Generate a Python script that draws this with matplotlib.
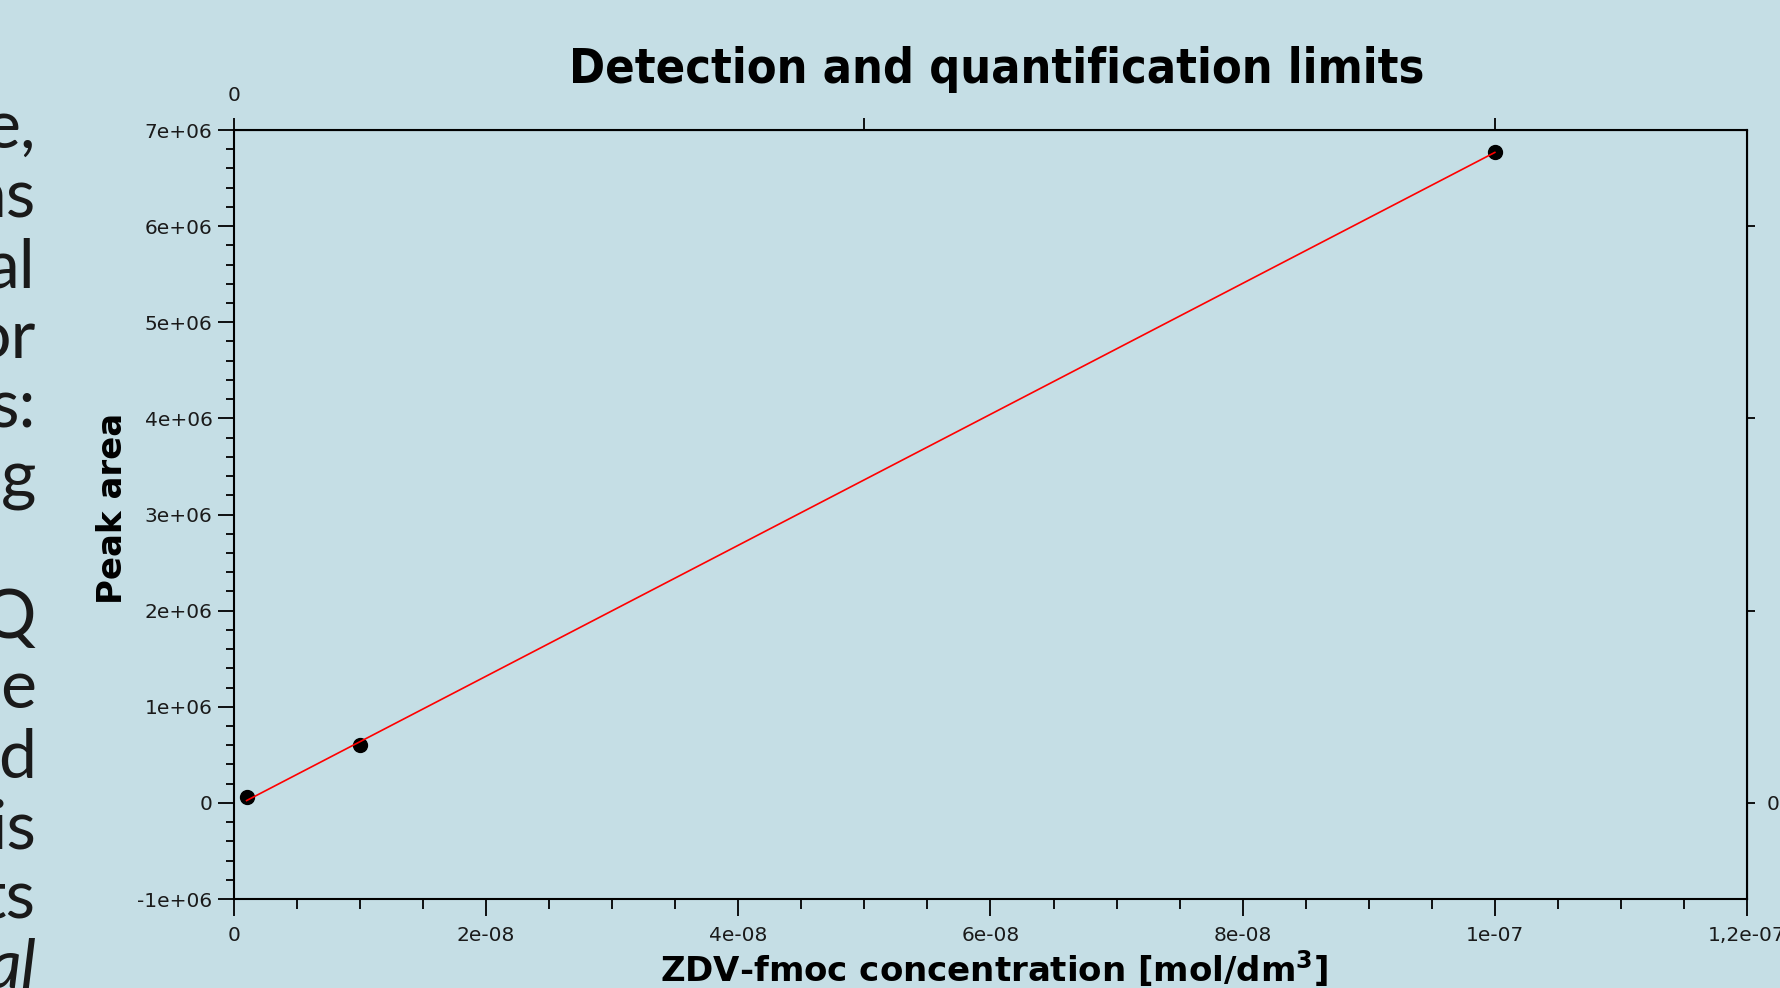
import numpy as np
import matplotlib
matplotlib.use("Agg")
import matplotlib.pyplot as plt
from matplotlib.ticker import MultipleLocator

# calibration points: concentration [mol/dm3] vs peak area
conc = [1e-9, 1e-8, 1e-7]
area = [5.8e4, 6.0e5, 6.77e6]

x_ticks = [0, 2e-8, 4e-8, 6e-8, 8e-8, 1e-7, 1.2e-7]
x_tick_labels = ["0", "2e-08", "4e-08", "6e-08", "8e-08", "1e-07", "1,2e-07"]
y_ticks = [-1e6, 0, 1e6, 2e6, 3e6, 4e6, 5e6, 6e6, 7e6]
y_tick_labels = ["-1e+06", "0", "1e+06", "2e+06", "3e+06", "4e+06",
                 "5e+06", "6e+06", "7e+06"]
top_ticks = [0, 5e-8, 1e-7]
top_tick_labels = ["0", "", ""]
right_ticks = [0, 2e6, 4e6, 6e6]
right_tick_labels = ["0", "", "", ""]

# tail ends of the slide paragraph on the left edge
side_text = ["e,", "as", "al", "or", "s:", "g", "", "Q", "e", "d", "is", "ts", "al"]

title = "Detection and quantification limits"
xlabel = r"ZDV-fmoc concentration [mol/dm$^\mathbf{3}$]"
ylabel = "Peak area"

BG = "#c5dee5"
INK = "#1a1a1a"
W, H = 1781, 988


def px(x):
    return x / W


def py(y):
    return 1 - y / H


fig = plt.figure(figsize=(W / 100, H / 100), dpi=100, facecolor=BG)
ax = fig.add_axes([px(234), py(899), px(1747 - 234), (899 - 130) / H])
ax.set_facecolor(BG)

# least squares line through the calibration points
slope, icpt = np.polyfit(conc, area, 1)
xs = np.array([min(conc), max(conc)])
ax.plot(conc, area, "o", color="black", ms=10, zorder=3)
ax.plot(xs, slope * xs + icpt, color="red", lw=1.2, zorder=4)

ax.set_xlim(0, 1.2e-7)
ax.set_ylim(-1e6, 7e6)
ax.set_xticks(x_ticks, x_tick_labels)
ax.set_yticks(y_ticks, y_tick_labels)
ax.xaxis.set_minor_locator(MultipleLocator(5e-9))
ax.yaxis.set_minor_locator(MultipleLocator(2e5))

for s in ax.spines.values():
    s.set_linewidth(1.5)
    s.set_color("black")

ax.tick_params(axis="x", which="major", direction="out", length=12.5, width=1.3,
               labelsize=14.5, labelcolor=INK, pad=7)
ax.tick_params(axis="x", which="minor", direction="out", length=7, width=1.3)
ax.tick_params(axis="y", which="major", direction="out", length=11.5, width=1.3,
               labelsize=14.5, labelcolor=INK, pad=4)
ax.tick_params(axis="y", which="minor", direction="out", length=6, width=1.3)

top = ax.secondary_xaxis("top")
top.set_xticks(top_ticks, top_tick_labels)
top.tick_params(direction="out", length=9, width=1.3, labelsize=14.5,
                labelcolor=INK, pad=9)
right = ax.secondary_yaxis("right")
right.set_yticks(right_ticks, right_tick_labels)
right.tick_params(direction="out", length=6, width=1.3, labelsize=14.5,
                  labelcolor=INK, pad=8)

fig.text(px(997), py(83), title, ha="center", va="baseline", fontsize=34.8,
         fontweight="bold", fontstretch="condensed", color="black")
fig.text(px(113), py(508), ylabel, ha="center", va="center", rotation=90,
         fontsize=24.5, fontweight="bold", color="black")
fig.text(px(994), py(981), xlabel, ha="center", va="baseline", fontsize=24.5,
         fontweight="bold", color="black")

for i, word in enumerate(side_text):
    if not word:
        continue
    fig.text(px(36), py(148 + 70 * i), word, ha="right", va="baseline",
             fontsize=49, family="Lato", color=INK,
             style="italic" if i == len(side_text) - 1 else "normal")

fig.savefig("out.png", dpi=100, facecolor=BG)
